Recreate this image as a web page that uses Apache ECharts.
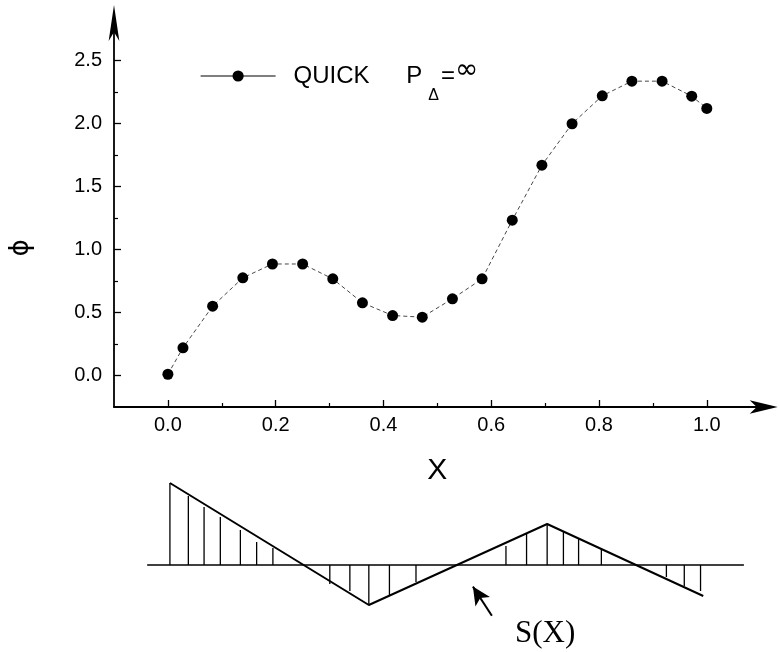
<!DOCTYPE html>
<html><head><meta charset="utf-8">
<script src="https://cdn.jsdelivr.net/npm/echarts@6/dist/echarts.min.js"></script>
<style>html,body{margin:0;padding:0;background:#fff}#c{width:780px;height:652px}</style>
</head><body><div id="c"></div>
<script>
// ---- data ----
const xValues   = [0, 0.028, 0.083, 0.139, 0.194, 0.25, 0.306, 0.361, 0.417, 0.472, 0.528, 0.583, 0.639, 0.694, 0.75, 0.806, 0.861, 0.917, 0.972, 1.0];
const phiValues = [0.01, 0.22, 0.55, 0.775, 0.885, 0.885, 0.767, 0.577, 0.476, 0.463, 0.609, 0.767, 1.233, 1.669, 1.998, 2.22, 2.336, 2.336, 2.217, 2.12];
const xTickLabels = [0, 0.2, 0.4, 0.6, 0.8, 1.0];
const xMinorTicks = [0.1, 0.3, 0.5, 0.7, 0.9];
const yTickLabels = [0, 0.5, 1.0, 1.5, 2.0, 2.5];
const yMinorTicks = [0.25, 0.75, 1.25, 1.75, 2.25];
// S(X) sketch below the plot
const sVertexX = [0.01, 0.377, 0.706, 0.994];
const sVertexY = [0.82, -0.40, 0.41, -0.31];
const hatchX = [0.01, 0.044, 0.073, 0.103, 0.140, 0.170, 0.200, 0.305, 0.342, 0.377, 0.415, 0.464, 0.630, 0.668, 0.706, 0.736, 0.764, 0.806, 0.926, 0.959, 0.989];
const hatchS = [0.82, 0.69, 0.58, 0.48, 0.35, 0.23, 0.17, -0.19, -0.26, -0.40, -0.30, -0.17, 0.19, 0.31, 0.41, 0.33, 0.26, 0.16, -0.12, -0.21, -0.26];
const baselineX = [-0.032, 1.069];
const arrowFrom = [0.604, -0.507];
const arrowTo = [0.569, -0.216];
const seriesName = 'QUICK PΔ=∞';

const font = 'Liberation Sans, Arial, sans-serif';
const chart = echarts.init(document.getElementById('c'), null, {renderer: 'canvas'});
const L = 110.3, R = 19.3;
const fmt = v => Number(v).toFixed(1);

chart.setOption({
  animation: false,
  backgroundColor: '#fff',
  grid: [
    {left: L, right: R, top: 29, bottom: 245},
    {left: L, right: R, top: 465, bottom: 27}
  ],
  legend: {
    left: 195, top: 52,
    itemWidth: 75, itemHeight: 14,
    data: [seriesName],
    lineStyle: {type: 'solid', width: 1.2, color: '#000'},
    itemStyle: {color: '#000'},
    formatter: () => 'QUICK{g| }P{sub|Δ}{eq|=}{inf|∞}',
    textStyle: {
      fontFamily: font, fontSize: 24, color: '#000', padding: [0, 0, 0, 13],
      rich: {
        g: {fontFamily: font, fontSize: 24, padding: [0, 30, 0, 0]},
        sub: {fontFamily: font, fontSize: 16, color: '#000', padding: [39, 2, 0, 6]},
        eq: {fontFamily: font, fontSize: 24, color: '#000'},
        inf: {fontFamily: 'DejaVu Sans', fontSize: 28, color: '#000', padding: [0, 0, 10, 0]}
      }
    }
  },
  xAxis: [
    {
      type: 'value', gridIndex: 0, position: 'bottom', min: -0.1, max: 1.1, interval: 0.1,
      name: 'X', nameLocation: 'middle', nameGap: 49,
      nameTextStyle: {fontFamily: font, fontSize: 30, color: '#000'},
      axisLine: {show: true, onZero: false, lineStyle: {color: '#000', width: 1.8}, symbol: ['none', 'arrow'], symbolSize: [10, 28], symbolOffset: [0, 17]},
      axisTick: {show: true, inside: true, length: 7, lineStyle: {color: '#000', width: 1.3}, customValues: xTickLabels},
      axisLabel: {show: true, margin: 8, fontFamily: font, fontSize: 20, color: '#000', customValues: xTickLabels, formatter: fmt},
      splitLine: {show: false}
    },
    {
      type: 'value', gridIndex: 0, position: 'bottom', min: -0.1, max: 1.1, interval: 0.1,
      axisLine: {show: false, onZero: false},
      axisTick: {show: true, inside: true, length: 4, lineStyle: {color: '#000', width: 1.2}, customValues: xMinorTicks},
      axisLabel: {show: false},
      splitLine: {show: false}
    },
    {
      type: 'value', gridIndex: 1, min: -0.1, max: 1.1, show: false
    }
  ],
  yAxis: [
    {
      type: 'value', gridIndex: 0, position: 'left', min: -0.25, max: 2.75, interval: 0.25,
      name: 'ϕ', nameLocation: 'middle', nameRotate: 90, nameGap: 80,
      nameTextStyle: {fontFamily: 'DejaVu Sans', fontSize: 26, color: '#000', padding: [0, 60, 0, 0]},
      axisLine: {show: true, onZero: false, lineStyle: {color: '#000', width: 1.8}, symbol: ['none', 'arrow'], symbolSize: [8, 36], symbolOffset: [0, 24]},
      axisTick: {show: true, inside: true, length: 7, lineStyle: {color: '#000', width: 1.3}, customValues: yTickLabels},
      axisLabel: {show: true, margin: 12, fontFamily: font, fontSize: 20, color: '#000', customValues: yTickLabels, formatter: fmt},
      splitLine: {show: false}
    },
    {
      type: 'value', gridIndex: 0, position: 'left', min: -0.25, max: 2.75, interval: 0.25,
      axisLine: {show: false, onZero: false},
      axisTick: {show: true, inside: true, length: 4, lineStyle: {color: '#000', width: 1.2}, customValues: yMinorTicks},
      axisLabel: {show: false},
      splitLine: {show: false}
    },
    {
      type: 'value', gridIndex: 1, min: -0.6, max: 1.0, show: false
    }
  ],
  series: [
    {
      name: seriesName, type: 'line', xAxisIndex: 0, yAxisIndex: 0,
      data: xValues.map((x, i) => [x, phiValues[i]]),
      symbol: 'circle', symbolSize: 11,
      itemStyle: {color: '#000'},
      lineStyle: {color: '#333', width: 0.9, type: [4, 3]}
    },
    {
      name: 'baseline', type: 'line', xAxisIndex: 2, yAxisIndex: 2,
      data: baselineX.map(x => [x, 0]), symbol: 'none',
      lineStyle: {color: '#000', width: 1.5}
    },
    {
      name: 'hatch', type: 'bar', xAxisIndex: 2, yAxisIndex: 2,
      data: hatchX.map((x, i) => [x, hatchS[i]]),
      barWidth: 1.3, itemStyle: {color: '#000'}
    },
    {
      name: 'S(X)', type: 'line', xAxisIndex: 2, yAxisIndex: 2,
      data: sVertexX.map((x, i) => [x, sVertexY[i]]), symbol: 'none',
      lineStyle: {color: '#000', width: 2},
      markLine: {
        silent: true, symbol: ['none', 'arrow'], symbolSize: [13, 18],
        label: {show: false},
        lineStyle: {color: '#000', width: 2, type: 'solid'},
        data: [[{coord: arrowFrom}, {coord: arrowTo}]]
      }
    }
  ],
  graphic: [
    {type: 'text', left: 515, top: 618, style: {text: 'S(X)', font: '31px "Liberation Serif", "Times New Roman", serif', fill: '#000'}}
  ]
});
</script></body></html>
